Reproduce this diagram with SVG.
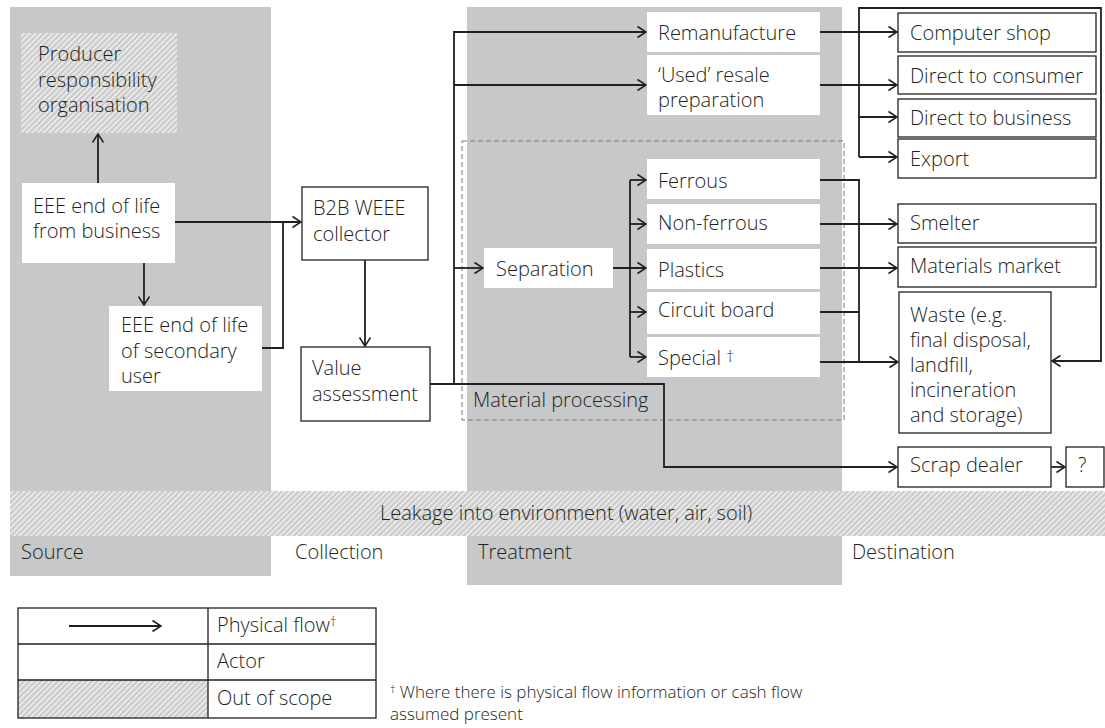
<svg xmlns="http://www.w3.org/2000/svg" width="1105" height="728" viewBox="0 0 1105 728">
<defs>
  <pattern id="hatch" patternUnits="userSpaceOnUse" width="4" height="4" patternTransform="rotate(45)">
    <rect width="4" height="4" fill="#cbcbcb"/>
    <rect width="1.4" height="4" fill="#f4f4f4"/>
  </pattern>
  <marker id="arr" markerUnits="userSpaceOnUse" markerWidth="12" markerHeight="14" refX="10" refY="7" orient="auto">
    <path d="M1.5,1.5 L10,7 L1.5,12.5" fill="none" stroke="#231f20" stroke-width="1.5"/>
  </marker>
</defs>
<style>
  text { font-family: "Open Sans", "Noto Sans", "Liberation Sans", sans-serif; font-size: 20px; font-weight: 300; fill: #231f20; }
  .panel { fill: #c7c8ca; }
  .box { fill: #ffffff; }
  .bbox { fill: #ffffff; stroke: #231f20; stroke-width: 1.3; }
  .oos { fill: url(#hatch); }
  .flow { fill: none; stroke: #231f20; stroke-width: 1.8; }
  .arrow { marker-end: url(#arr); }
  .dash { fill: none; stroke: #7a7a7a; stroke-width: 1; stroke-dasharray: 5 3; }
  .sup { font-size: 13px; }
  .note { font-size: 17px; }
</style>

<!-- stage panels -->
<g id="panels">
  <rect class="panel" x="10" y="7" width="261" height="569"/>
  <rect class="panel" x="467" y="7" width="375" height="578"/>
</g>

<!-- leakage band -->
<g id="leakage">
  <rect class="oos" x="10" y="491" width="1095" height="45"/>
  <text x="380" y="520">Leakage into environment (water, air, soil)</text>
</g>

<!-- stage labels -->
<g id="stage-labels">
  <text x="21" y="559">Source</text>
  <text x="295" y="559">Collection</text>
  <text x="478" y="559">Treatment</text>
  <text x="852" y="559">Destination</text>
</g>

<!-- material processing area -->
<g id="material-processing">
  <rect class="dash" x="462" y="141" width="382" height="279"/>
  <text x="473" y="407">Material processing</text>
</g>

<!-- connectors -->
<g id="connectors">
  <path class="flow arrow" d="M98,183 V134"/>
  <path class="flow arrow" d="M144,263 V305"/>
  <path class="flow arrow" d="M175,222 H301"/>
  <path class="flow" d="M262,348 H283 V222"/>
  <path class="flow arrow" d="M365,260 V346"/>
  <path class="flow arrow" d="M430,384 H664 V467 H897"/>
  <path class="flow arrow" d="M454,384 V32 H646"/>
  <path class="flow arrow" d="M454,85 H646"/>
  <path class="flow arrow" d="M454,268 H483"/>
  <path class="flow arrow" d="M613,268 H646"/>
  <path class="flow" d="M630,180 V357"/>
  <path class="flow arrow" d="M630,180 H646"/>
  <path class="flow arrow" d="M630,224 H646"/>
  <path class="flow arrow" d="M630,312 H646"/>
  <path class="flow arrow" d="M630,357 H646"/>
  <path class="flow arrow" d="M820,32 H897"/>
  <path class="flow" d="M820,85 H859"/>
  <path class="flow arrow" d="M859,157 V8 H1101 V361 H1052"/>
  <path class="flow arrow" d="M859,85 H897"/>
  <path class="flow arrow" d="M859,117 H897"/>
  <path class="flow arrow" d="M859,157 H897"/>
  <path class="flow" d="M820,180 H859 V362"/>
  <path class="flow arrow" d="M820,224 H897"/>
  <path class="flow arrow" d="M820,268 H897"/>
  <path class="flow" d="M820,312 H859"/>
  <path class="flow arrow" d="M820,362 H898"/>
  <path class="flow arrow" d="M1051,467 H1065"/>
</g>

<!-- source actors -->
<g id="pro">
  <rect class="oos" x="21" y="33" width="156" height="100"/>
  <text x="38" y="61">Producer</text>
  <text x="38" y="86.5">responsibility</text>
  <text x="38" y="112">organisation</text>
</g>
<g id="eee-business">
  <rect class="box" x="22" y="183" width="153" height="80"/>
  <text x="33" y="213">EEE end of life</text>
  <text x="33" y="238">from business</text>
</g>
<g id="eee-secondary">
  <rect class="box" x="109" y="306" width="153" height="85"/>
  <text x="121" y="332">EEE end of life</text>
  <text x="121" y="357.5">of secondary</text>
  <text x="121" y="383">user</text>
</g>

<!-- collection actors -->
<g id="b2b-collector">
  <rect class="bbox" x="302" y="187" width="126" height="73"/>
  <text x="313" y="215">B2B WEEE</text>
  <text x="313" y="241">collector</text>
</g>
<g id="value-assessment">
  <rect class="bbox" x="301" y="347" width="129" height="74"/>
  <text x="312" y="375">Value</text>
  <text x="312" y="401">assessment</text>
</g>

<!-- treatment actors -->
<g id="remanufacture">
  <rect class="box" x="647" y="12" width="173" height="40"/>
  <text x="658" y="40">Remanufacture</text>
</g>
<g id="resale-preparation">
  <rect class="box" x="647" y="55" width="173" height="60"/>
  <text x="658" y="82">‘Used’ resale</text>
  <text x="658" y="107">preparation</text>
</g>
<g id="separation">
  <rect class="box" x="484" y="248" width="129" height="40"/>
  <text x="496" y="276">Separation</text>
</g>
<g id="ferrous">
  <rect class="box" x="647" y="159" width="173" height="40"/>
  <text x="658" y="188">Ferrous</text>
</g>
<g id="non-ferrous">
  <rect class="box" x="647" y="204" width="173" height="40"/>
  <text x="658" y="230">Non-ferrous</text>
</g>
<g id="plastics">
  <rect class="box" x="647" y="249" width="173" height="40"/>
  <text x="658" y="277">Plastics</text>
</g>
<g id="circuit-board">
  <rect class="box" x="647" y="292" width="173" height="42"/>
  <text x="658" y="317">Circuit board</text>
</g>
<g id="special">
  <rect class="box" x="647" y="337" width="173" height="40"/>
  <text x="658" y="365">Special <tspan font-size="16" dy="-3">†</tspan></text>
</g>

<!-- destination actors -->
<g id="computer-shop">
  <rect class="bbox" x="898" y="13" width="198" height="39"/>
  <text x="910" y="40">Computer shop</text>
</g>
<g id="direct-consumer">
  <rect class="bbox" x="898" y="56" width="198" height="38"/>
  <text x="910" y="83">Direct to consumer</text>
</g>
<g id="direct-business">
  <rect class="bbox" x="898" y="99" width="198" height="38"/>
  <text x="910" y="125">Direct to business</text>
</g>
<g id="export">
  <rect class="bbox" x="898" y="139" width="198" height="39"/>
  <text x="910" y="166">Export</text>
</g>
<g id="smelter">
  <rect class="bbox" x="898" y="204" width="198" height="39"/>
  <text x="910" y="230">Smelter</text>
</g>
<g id="materials-market">
  <rect class="bbox" x="898" y="247" width="198" height="40"/>
  <text x="910" y="273">Materials market</text>
</g>
<g id="waste">
  <rect class="bbox" x="899" y="292" width="152" height="141"/>
  <text x="910" y="322">Waste (e.g.</text>
  <text x="910" y="347">final disposal,</text>
  <text x="910" y="372">landfill,</text>
  <text x="910" y="397">incineration</text>
  <text x="910" y="422">and storage)</text>
</g>
<g id="scrap-dealer">
  <rect class="bbox" x="898" y="447" width="153" height="40"/>
  <text x="910" y="472">Scrap dealer</text>
</g>
<g id="unknown">
  <rect class="bbox" x="1066" y="447" width="38" height="40"/>
  <text x="1078" y="472">?</text>
</g>

<!-- legend -->
<g id="legend">
  <rect class="oos" x="18" y="680" width="190" height="38"/>
  <rect x="18" y="608" width="358" height="110" fill="none" stroke="#231f20" stroke-width="1.3"/>
  <path d="M18,644 H376 M18,680 H376 M208,608 V718" fill="none" stroke="#231f20" stroke-width="1.3"/>
  <path class="flow arrow" d="M69,626 H161" stroke-width="1.3"/>
  <text x="217" y="632">Physical flow<tspan class="sup" dy="-6">†</tspan></text>
  <text x="217" y="668">Actor</text>
  <text x="217" y="705">Out of scope</text>
</g>

<!-- footnote -->
<g id="footnote">
  <text class="note" x="390" y="698"><tspan font-size="11" dy="-5">†</tspan><tspan dy="5"> Where there is physical flow information or cash flow</tspan></text>
  <text class="note" x="390" y="720">assumed present</text>
</g>
</svg>
